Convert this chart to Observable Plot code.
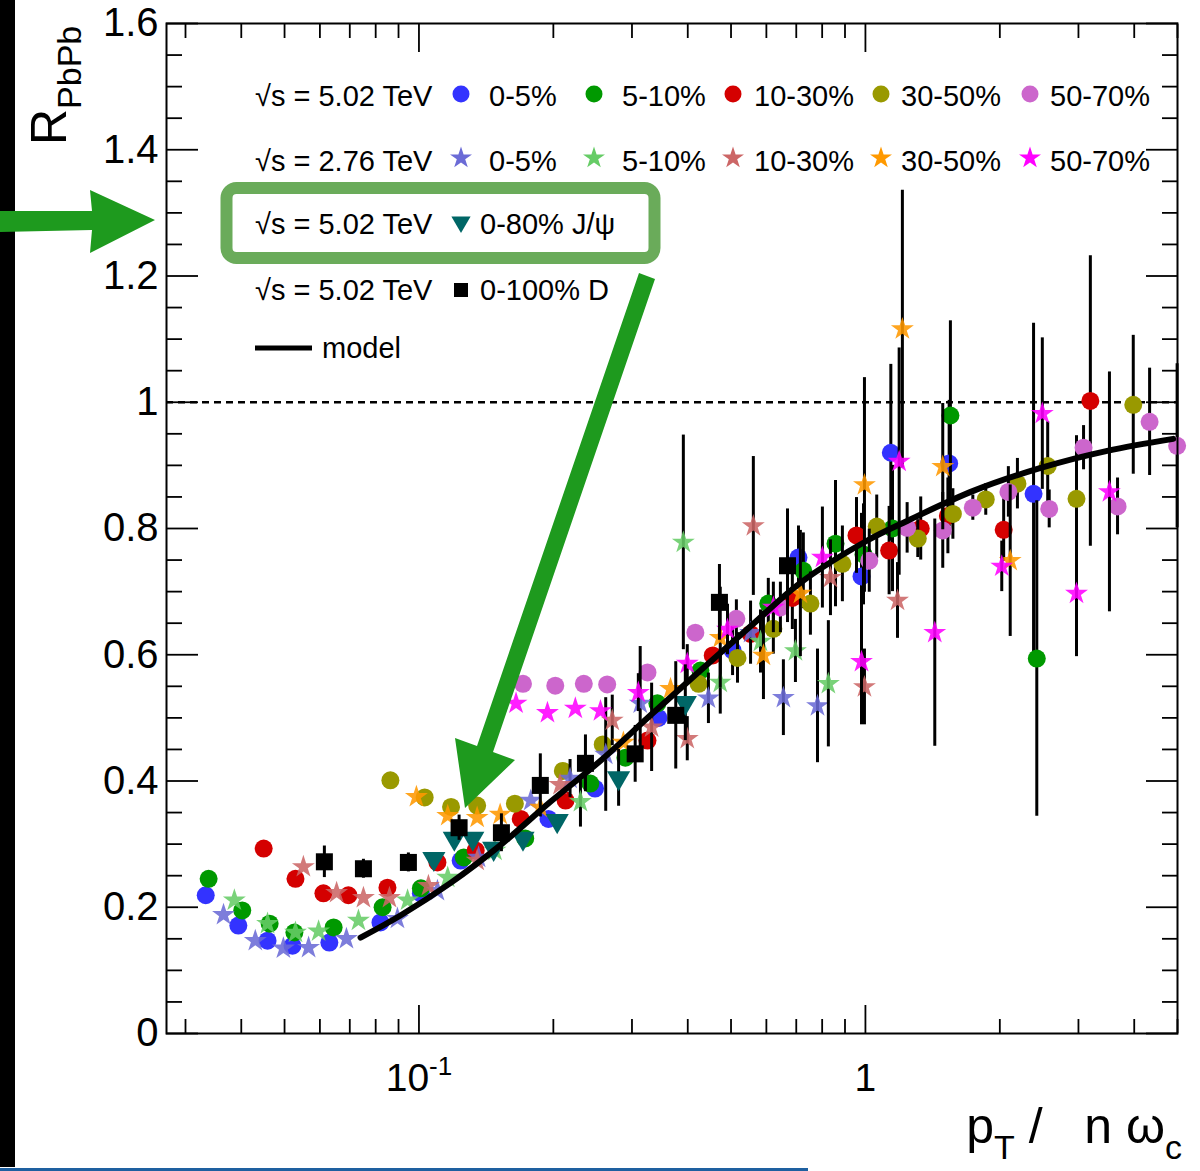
<!DOCTYPE html>
<html>
<head>
<meta charset="utf-8">
<script src="https://cdn.jsdelivr.net/npm/d3@7"></script>
<script src="https://cdn.jsdelivr.net/npm/@observablehq/plot@0.6"></script>
<style>
  html, body { margin: 0; padding: 0; background: #fff; }
  #chart { width: 1200px; height: 1171px; overflow: hidden; }
</style>
</head>
<body>
<div id="chart"></div>
<script>
// ---------------- data: [pT/(n omega_c), R_PbPb, error] ----------------
const pbpb502_0_5 = [[0.0333,0.219],[0.0394,0.171],[0.0458,0.147],[0.0521,0.139],[0.0630,0.144],[0.0820,0.176],[0.101,0.222],[0.124,0.274],[0.195,0.340],[0.248,0.388],[0.344,0.500],[0.504,0.607,0.04],[0.708,0.754,0.05],[0.980,0.724,0.1],[1.14,0.920,0.14],[1.54,0.903,0.1],[2.38,0.855,0.27]];
const pbpb502_5_10 = [[0.0338,0.245],[0.0402,0.195],[0.0463,0.174],[0.0526,0.160],[0.0644,0.168],[0.0829,0.200],[0.101,0.230],[0.126,0.279],[0.173,0.309],[0.242,0.396],[0.290,0.437],[0.342,0.523],[0.427,0.575],[0.606,0.681,0.04],[0.726,0.733,0.06],[0.857,0.776,0.1],[0.990,0.759,0.08],[1.15,0.800,0.1],[1.55,0.979,0.15],[2.42,0.594,0.25]];
const pbpb502_10_30 = [[0.0449,0.293],[0.0529,0.245],[0.0611,0.222],[0.0695,0.219],[0.0850,0.231],[0.110,0.271],[0.134,0.290],[0.169,0.340],[0.213,0.369],[0.325,0.464],[0.455,0.599],[0.553,0.633],[0.686,0.690,0.05],[0.955,0.789,0.06],[1.13,0.765,0.07],[1.33,0.800,0.05],[1.53,0.820,0.06],[2.04,0.798,0.05],[3.19,1.002,0.23]];
const pbpb502_30_50 = [[0.0863,0.401],[0.103,0.374],[0.118,0.359],[0.135,0.361],[0.164,0.364],[0.210,0.416],[0.258,0.458],[0.423,0.554],[0.517,0.595,0.04],[0.622,0.641,0.04],[0.753,0.681,0.05],[0.888,0.744,0.06],[1.06,0.803,0.05],[1.31,0.784,0.03],[1.57,0.823,0.04],[1.86,0.846,0.025],[2.19,0.871,0.04],[2.56,0.899,0.07],[2.97,0.847,0.1],[3.98,0.996,0.11]];
const pbpb502_50_70 = [[0.171,0.554],[0.202,0.551],[0.234,0.554],[0.264,0.553],[0.325,0.572],[0.416,0.635],[0.514,0.657,0.03],[0.645,0.675,0.04],[1.02,0.749,0.05],[1.24,0.801,0.04],[1.49,0.797,0.06],[1.74,0.833,0.02],[2.09,0.858,0.04],[2.58,0.831,0.03],[3.08,0.928,0.035],[3.67,0.835,0.045],[4.33,0.969,0.085],[4.99,0.931,0.13]];

const pbpb276_0_5 = [[0.0365,0.188],[0.0430,0.147],[0.0497,0.135],[0.0566,0.136],[0.0688,0.150],[0.0895,0.182],[0.110,0.226],[0.136,0.279],[0.178,0.369],[0.218,0.404,0.03],[0.262,0.442,0.09],[0.313,0.523,0.09],[0.445,0.531,0.04],[0.553,0.635,0.05],[0.655,0.532,0.06],[0.781,0.519,0.09]];
const pbpb276_5_10 = [[0.0386,0.211],[0.0458,0.174],[0.0529,0.160],[0.0596,0.162],[0.0732,0.179],[0.0943,0.211],[0.116,0.247],[0.148,0.290],[0.230,0.367,0.04],[0.391,0.778,0.17],[0.473,0.556,0.05],[0.582,0.621,0.05],[0.697,0.606,0.05],[0.826,0.554,0.1]];
const pbpb276_10_30 = [[0.0551,0.264],[0.0654,0.223],[0.0751,0.215],[0.0859,0.215],[0.105,0.234],[0.135,0.274],[0.207,0.394],[0.271,0.496,0.04],[0.332,0.485,0.07],[0.399,0.467,0.035],[0.561,0.804,0.11],[0.835,0.722,0.06],[0.995,0.549,0.06],[1.18,0.686,0.06]];
const pbpb276_30_50 = [[0.0987,0.375],[0.116,0.345],[0.135,0.342],[0.152,0.347],[0.187,0.358],[0.287,0.461],[0.366,0.546],[0.473,0.627,0.08],[0.591,0.599,0.07],[0.715,0.697,0.1],[0.995,0.869,0.17],[1.21,1.116,0.22],[1.49,0.898,0.1],[2.11,0.749,0.12]];
const pbpb276_50_70 = [[0.165,0.523],[0.194,0.508],[0.224,0.515],[0.255,0.511],[0.310,0.540,0.03],[0.399,0.586,0.03],[0.491,0.640,0.04],[0.622,0.675,0.04],[0.801,0.754,0.08],[0.980,0.589,0.1],[1.19,0.906,0.18],[1.43,0.635,0.18],[2.02,0.740,0.04],[2.49,0.982,0.12],[2.97,0.697,0.1],[3.52,0.858,0.19]];

const jpsi502_0_80 = [[0.108,0.277],[0.120,0.309],[0.132,0.309],[0.147,0.293],[0.171,0.309],[0.204,0.337],[0.280,0.405,0.045],[0.395,0.524,0.06]];
const dmeson502_0_100 = [[0.0614,0.272,0.025],[0.0751,0.261,0.015],[0.0947,0.271,0.015],[0.123,0.326,0.02],[0.153,0.318,0.03],[0.187,0.393,0.05],[0.236,0.428,0.045],[0.305,0.443,0.045],[0.376,0.504,0.085],[0.471,0.683,0.06],[0.669,0.741,0.09]];

const modelCurve = [[0.0740,0.152],[0.0909,0.187],[0.118,0.239],[0.152,0.298],[0.197,0.367],[0.255,0.432],[0.330,0.504],[0.427,0.575],[0.553,0.645],[0.715,0.714],[1.01,0.781],[1.24,0.812],[1.75,0.860],[2.47,0.896],[3.48,0.923],[4.89,0.942]];

const centralityLabels = ["0-5%", "5-10%", "10-30%", "30-50%", "50-70%"];
const energyLabels = ["√s = 5.02 TeV", "√s = 2.76 TeV", "√s = 5.02 TeV", "√s = 5.02 TeV"];
const jpsiLabel = "0-80% J/ψ";
const dLabel = "0-100% D";
const modelLabel = "model";
const circleColors = ["#3333ff", "#009900", "#d40000", "#999900", "#cc66cc"];
const starColors = ["#6b6bd6", "#66cc66", "#cc6666", "#ff9900", "#ff00ff"];
const jpsiColor = "#006666";
const dColor = "#000000";

const yMajorTicks = [0, 0.2, 0.4, 0.6, 0.8, 1, 1.2, 1.4, 1.6];
const yMinorTicks = [0.05,0.1,0.15,0.25,0.3,0.35,0.45,0.5,0.55,0.65,0.7,0.75,0.85,0.9,0.95,1.05,1.1,1.15,1.25,1.3,1.35,1.45,1.5,1.55];
const xMajorTicks = [0.1, 1];
const xMinorTicks = [0.03,0.04,0.05,0.06,0.07,0.08,0.09,0.2,0.3,0.4,0.5,0.6,0.7,0.8,0.9,2,3,4,5];

// ---------------- rendering ----------------
const FONT = "'Liberation Sans', Arial, Helvetica, sans-serif";
const triangleDown = {
  draw(ctx, size) {
    const y = Math.sqrt(size / (Math.sqrt(3) * 3));
    const x = Math.sqrt(3) * y;
    ctx.moveTo(0, 2 * y); ctx.lineTo(-x, -y); ctx.lineTo(x, -y); ctx.closePath();
  }
};
const toRows = arr => arr.map(([x, y, e = 0]) => ({x, y, e}));

const series = [
  ...[pbpb502_0_5, pbpb502_5_10, pbpb502_10_30, pbpb502_30_50, pbpb502_50_70].map((d, i) => ({data: d, symbol: "circle", r: 9, fill: circleColors[i], opacity: 1})),
  ...[pbpb276_0_5, pbpb276_5_10, pbpb276_10_30, pbpb276_30_50, pbpb276_50_70].map((d, i) => ({data: d, symbol: "star", r: 7.2, fill: starColors[i], opacity: 0.88})),
  {data: jpsi502_0_80, symbol: triangleDown, r: 8.6, fill: jpsiColor, opacity: 1},
  {data: dmeson502_0_100, symbol: "square", r: 9.6, fill: dColor, opacity: 1}
];

const dataMarks = [];
for (const s of series) {
  const rows = toRows(s.data);
  dataMarks.push(Plot.ruleX(rows.filter(d => d.e > 0), {x: "x", y1: d => d.y - d.e, y2: d => d.y + d.e, stroke: "black", strokeWidth: 3}));
  dataMarks.push(Plot.dot(rows, {x: "x", y: "y", symbol: s.symbol, r: s.r, fill: s.fill, fillOpacity: s.opacity, stroke: "none"}));
}

const yFmt = d => String(+d.toFixed(1));
const xFmt = d => d === 1 ? "1" : "10-1";
const tickStyle = {stroke: "black", strokeWidth: 1.8, fill: "none", label: null};

const svg = Plot.plot({
  width: 1200,
  height: 1171,
  marginLeft: 166,
  marginRight: 23,
  marginTop: 23,
  marginBottom: 138,
  style: {fontFamily: FONT, background: "white", color: "black"},
  x: {type: "log", domain: [0.0272, 5.0], axis: null, label: null},
  y: {domain: [0, 1.6], axis: null, label: null},
  marks: [
    Plot.ruleY([1], {stroke: "black", strokeWidth: 2.5, strokeDasharray: "7,5"}),
    ...dataMarks,
    Plot.line(toRows(modelCurve), {x: "x", y: "y", stroke: "black", strokeWidth: 6, curve: "catmull-rom"}),
    Plot.axisY(yMajorTicks, {anchor: "left", tickSize: -32, ...tickStyle}),
    Plot.axisY(yMinorTicks, {anchor: "left", tickSize: -16, ...tickStyle}),
    Plot.axisY(yMajorTicks, {anchor: "right", tickSize: -32, ...tickStyle}),
    Plot.axisY(yMinorTicks, {anchor: "right", tickSize: -16, ...tickStyle}),
    Plot.axisX(xMajorTicks, {anchor: "bottom", tickSize: -28, ...tickStyle}),
    Plot.axisX(xMinorTicks, {anchor: "bottom", tickSize: -14, ...tickStyle}),
    Plot.axisX(xMajorTicks, {anchor: "top", tickSize: -28, ...tickStyle}),
    Plot.axisX(xMinorTicks, {anchor: "top", tickSize: -14, ...tickStyle}),
    Plot.axisY(yMajorTicks, {anchor: "left", tickSize: 0, tickPadding: 8, tickFormat: yFmt, fontSize: 40, fill: "black", label: null}),
    Plot.axisX(xMajorTicks, {anchor: "bottom", tickSize: 0, tickPadding: 30, tickFormat: xFmt, fontSize: 39, fill: "black", label: null}),
    Plot.frame({stroke: "black", strokeWidth: 2})
  ]
});

document.getElementById("chart").appendChild(svg);
const S = d3.select(svg);

// superscript for 10^-1
S.selectAll("text").filter(function () { return this.textContent === "10-1"; }).each(function () {
  const t = d3.select(this);
  t.text("10");
  t.append("tspan").attr("font-size", 26).attr("dy", -16).text("-1");
});

// axis titles
const yTitle = S.append("text").attr("transform", "translate(66,145) rotate(-90)")
  .attr("text-anchor", "start").attr("font-family", FONT).attr("font-size", 50).attr("fill", "black");
yTitle.append("tspan").text("R");
yTitle.append("tspan").attr("font-size", 34).attr("dy", 15).text("PbPb");

const xTitle = S.append("text").attr("x", 1182).attr("y", 1143).attr("text-anchor", "end")
  .attr("font-family", FONT).attr("font-size", 50).attr("fill", "black");
xTitle.append("tspan").text("p");
xTitle.append("tspan").attr("font-size", 34).attr("dy", 16).text("T");
xTitle.append("tspan").attr("dy", -16).text(" /   n ω");
xTitle.append("tspan").attr("font-size", 34).attr("dy", 16).text("c");

// legend
const lg = S.append("g").attr("font-family", FONT).attr("font-size", 29).attr("fill", "black").attr("text-anchor", "start");
const rowBase = [106, 171, 234, 300];
const rowMark = [94, 158, 222, 290];
const markX = [461, 594, 733, 881, 1030];
const textX = [489, 622, 754, 901, 1050];
energyLabels.forEach((t, i) => lg.append("text").attr("x", 255).attr("y", rowBase[i]).text(t));
centralityLabels.forEach((t, i) => {
  lg.append("path").attr("transform", `translate(${markX[i]},${rowMark[0]})`)
    .attr("d", d3.symbol().type(d3.symbolCircle).size(Math.PI * 8.5 * 8.5)()).attr("fill", circleColors[i]);
  lg.append("text").attr("x", textX[i]).attr("y", rowBase[0]).text(t);
  lg.append("path").attr("transform", `translate(${markX[i]},${rowMark[1]})`)
    .attr("d", d3.symbol().type(d3.symbolStar).size(150)()).attr("fill", starColors[i]);
  lg.append("text").attr("x", textX[i]).attr("y", rowBase[1]).text(t);
});
lg.append("path").attr("transform", `translate(${markX[0]},${rowMark[2]})`)
  .attr("d", d3.symbol().type(triangleDown).size(160)()).attr("fill", jpsiColor);
lg.append("text").attr("x", 480).attr("y", rowBase[2]).text(jpsiLabel);
lg.append("path").attr("transform", `translate(${markX[0]},${rowMark[3]})`)
  .attr("d", d3.symbol().type(d3.symbolSquare).size(196)()).attr("fill", dColor);
lg.append("text").attr("x", 480).attr("y", rowBase[3]).text(dLabel);
lg.append("line").attr("x1", 255).attr("x2", 312).attr("y1", 348).attr("y2", 348).attr("stroke", "black").attr("stroke-width", 5);
lg.append("text").attr("x", 322).attr("y", 358).text(modelLabel);

// annotations (screenshot overlay)
const ann = S.append("g");
ann.append("rect").attr("x", 0).attr("y", 0).attr("width", 15).attr("height", 1167).attr("fill", "black");
ann.append("rect").attr("x", 0).attr("y", 1168).attr("width", 808).attr("height", 3).attr("fill", "#1e60a0");
ann.append("polygon").attr("points", "0,211 92,211 90,190 155,220 90,253 92,230 0,232").attr("fill", "#1e9a1e");
ann.append("rect").attr("x", 226.5).attr("y", 188).attr("width", 428).attr("height", 70).attr("rx", 10)
  .attr("fill", "none").attr("stroke", "#6aab5a").attr("stroke-width", 12);
ann.append("polygon").attr("points", "639,273 655,279 493,752 515,760 465,808 455,738 477,746").attr("fill", "#1e9a1e");
</script>
</body>
</html>
